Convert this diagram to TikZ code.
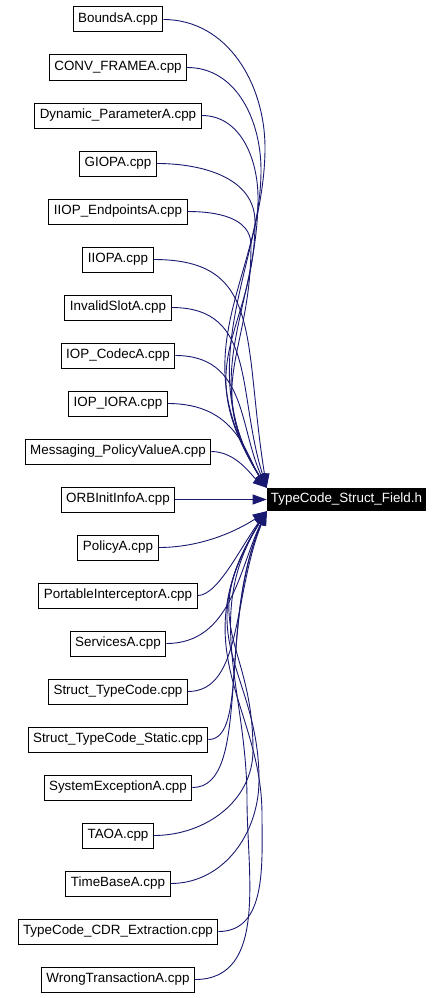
\documentclass[tikz,border=0pt]{standalone}
\usepackage{fontspec}
\setmainfont{Liberation Sans}
\usetikzlibrary{arrows.meta}

\definecolor{inclblue}{HTML}{191970}

\tikzset{
  filebox/.style={draw=black, line width=1pt, fill=white, inner xsep=5pt, inner ysep=0pt,
    minimum height=25pt, font=\fontsize{13.4}{16}\selectfont},
  headbox/.style={fill=black, text=white, inner xsep=4pt, inner ysep=0pt,
    minimum height=23pt, font=\fontsize{13.4}{16}\selectfont},
  incl/.style={draw=inclblue, line width=0.9pt, -{Triangle[length=14pt,width=10pt]}},
}

\begin{document}
\begin{tikzpicture}[x=1pt,y=1pt]
  \useasboundingbox (0,0) rectangle (443,-998);
  % the including files, one column
  \foreach \nm/\txt [count=\i from 0] in {bounds/BoundsA.cpp, convframe/CONV\_FRAMEA.cpp,
      dynparam/Dynamic\_ParameterA.cpp, giop/GIOPA.cpp, iiopendp/IIOP\_EndpointsA.cpp,
      iiopa/IIOPA.cpp, invslot/InvalidSlotA.cpp, iopcodec/IOP\_CodecA.cpp, iopior/IOP\_IORA.cpp,
      msgpolicy/Messaging\_PolicyValueA.cpp, orbinit/ORBInitInfoA.cpp, policy/PolicyA.cpp,
      portable/PortableInterceptorA.cpp, services/ServicesA.cpp, structtc/Struct\_TypeCode.cpp,
      structstatic/Struct\_TypeCode\_Static.cpp, sysexc/SystemExceptionA.cpp, taoa/TAOA.cpp,
      timebase/TimeBaseA.cpp, tccdr/TypeCode\_CDR\_Extraction.cpp, wrongtx/WrongTransactionA.cpp}{
    \node[filebox] (\nm) at (118,{-19.5-48*\i}) {\txt};
  }
  % the included header
  \node[headbox] (structfield) at (346.5,-499.5) {TypeCode\_Struct\_Field.h};

  % upper files: out to the right, then down into the bundle
  \foreach \nm/\wx/\wy/\bend in {bounds/265/148/78, convframe/261/170/86, dynparam/258/198/70,
      giop/255/222/80, iiopendp/251/245/64}{
    \draw[incl] (\nm.east) to[out=0,in=90] (\wx,-\wy)
      .. controls +(0,-110) and +({-\bend},{1.6*\bend}) .. (structfield.north west);
  }
  \foreach \nm/\ax/\bx/\by in {iiopa/110/24/150, invslot/85/30/96, iopcodec/71/28/62,
      iopior/69/21/33, msgpolicy/25/15/12}{
    \draw[incl] (\nm.east) .. controls +(\ax,0) and +({-\bx},\by) .. (structfield.north west);
  }
  \draw[incl] (orbinit.east) -- (structfield.west);

  % lower files: the same, mirrored
  \foreach \nm/\ax/\bx/\by in {policy/50/21/14, portable/20/28/39, services/65/28/58,
      structtc/55/34/84, structstatic/40/46/104, sysexc/60/50/114}{
    \draw[incl] (\nm.east) .. controls +(\ax,0) and +({-\bx},{-\by}) .. (structfield.south west);
  }
  \foreach \nm/\wx/\wy/\bend in {taoa/253/750/72, timebase/259/780/80, tccdr/262/815/86,
      wrongtx/247/800/64}{
    \draw[incl] (\nm.east) to[out=0,in=-90] (\wx,-\wy)
      .. controls +(0,110) and +({-\bend},{-1.6*\bend}) .. (structfield.south west);
  }
\end{tikzpicture}
\end{document}
